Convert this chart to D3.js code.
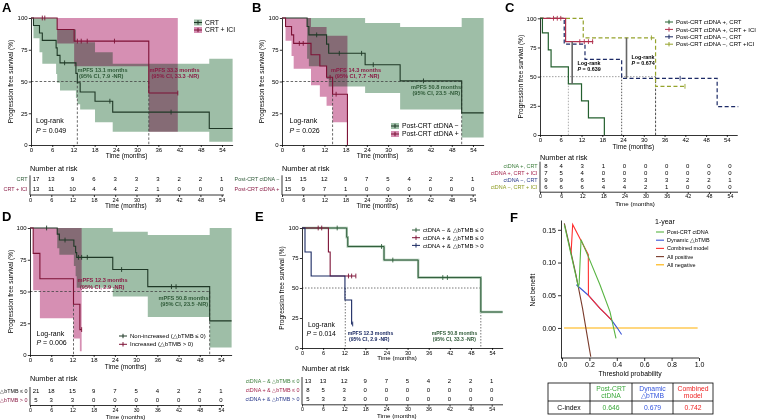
<!DOCTYPE html>
<html><head><meta charset="utf-8">
<script src="https://cdn.jsdelivr.net/npm/d3@7"></script>
<style>body{margin:0;background:#fff}svg{display:block}</style>
</head><body><script>
const FONT='"Liberation Sans", Arial, Helvetica, sans-serif';
const riskTimes=[0,6,12,18,24,30,36,42,48,54];
const survTicks=[0,25,50,75,100];

// ---------- Panel A ----------
const aCrtSteps=[[0,100],[0.7,94.1],[2.4,88.2],[3.2,82.4],[7.1,76.5],[7.4,70.6],[8.2,64.7],[12.7,56.4],[13.1,49.0],[13.9,41.7],[18.1,34.5],[23.1,25.9],[50.4,13.0],[57,13.0]];
const aCrtCensor=[9.5,22.3,39.6];
const aCrtCI=[[0,100,100],[0.7,84,100],[2.4,73,100],[3.2,64,100],[7.1,56,100],[7.4,49,91],[8.2,43,91],[12.7,37,81],[13.1,32,81],[13.9,28,81],[18.1,18,73],[23.1,10.5,64],[50.4,2.5,68],[57,2.5,68]];
const aIciSteps=[[0,100],[7.4,90.9],[12.2,81.8],[33.3,40.9],[41.5,40.9]];
const aIciCensor=[3.2,3.9,13.1,14.2,15.9,23.6,41.5];
const aIciCI=[[0,100,100],[7.4,80,100],[12.2,62,100],[33.3,10.5,100],[41.5,10.5,100]];
const aRiskCrt=[17,13,9,6,3,3,3,2,2,1];
const aRiskIci=[13,11,10,4,4,2,1,0,0,0];

// ---------- Panel B ----------
const bNegSteps=[[0,100],[7.1,93.3],[7.6,86.7],[12.6,79.4],[13.2,72.2],[23.5,63.2],[33.4,50.5],[50.8,25.3],[57,25.3]];
const bNegCensor=[9.8,16.2,22.5,25.8,40.0];
const bNegCI=[[0,100,100],[7.1,68,100],[7.6,62,100],[12.6,52,100],[13.2,46,100],[23.5,41,96],[33.4,28,93],[50.8,6,100],[57,6,100]];
const bPosSteps=[[0,100],[1.0,93.3],[2.7,86.7],[3.3,80.0],[8.2,71.1],[10.7,62.2],[12.6,53.3],[14.3,40.0],[18.5,0]];
const bPosCensor=[4.9,6.0,13.6,15.3];
const bPosCI=[[0,100,100],[1.0,82,100],[2.7,70,100],[3.3,60,100],[8.2,47,93],[10.7,38,93],[12.6,31,86],[14.3,18,86],[18.5,18,86]];
const bRiskNeg=[15,15,12,9,7,5,4,2,2,1];
const bRiskPos=[15,9,7,1,0,0,0,0,0,0];

// ---------- Panel C ----------
const cPosCrtSteps=[[0,100],[0.7,87.5],[2.4,72.9],[3.2,58.3],[8.2,43.8],[12.0,29.2],[14.0,14.6],[18.6,0]];
const cPosIciSteps=[[0,100],[7.4,80],[15.4,80]];
const cPosIciCensor=[3.9,5.0,6.0,11.5,12.8,14.0,15.2];
const cNegCrtSteps=[[0,100],[7.0,77.8],[13.0,64.8],[23.6,48.6],[51.2,24.3],[57.3,24.3]];
const cNegCrtCensor=[40.5];
const cNegIciSteps=[[0,100],[12.5,83.3],[33.4,41.7],[41.9,41.7]];
const cNegIciCensor=[32.2,41.9];
const cRiskPosCrt=[8,4,3,1,0,0,0,0,0,0];
const cRiskPosIci=[7,5,4,0,0,0,0,0,0,0];
const cRiskNegCrt=[9,9,6,5,3,3,3,2,2,1];
const cRiskNegIci=[6,6,6,4,4,2,1,0,0,0];

// ---------- Panel D ----------
const dNonSteps=[[0,100],[7.7,95.2],[8.3,90.5],[12.4,85.6],[12.9,80.6],[13.2,76.9],[23.4,67.3],[33.3,53.8],[50.8,26.9],[57,26.9]];
const dNonCensor=[4.7,9.9,13.7,14.6,16.2,25.9,40.0,41.3];
const dNonCI=[[0,100,100],[7.7,84,100],[8.3,79,100],[12.4,70,100],[12.9,62,100],[13.2,53,100],[23.4,46,97],[33.3,30,94.5],[50.8,6,100],[57,6,100]];
const dIncSteps=[[0,100],[0.9,80],[2.8,60],[12.3,40],[14.1,20],[14.6,20]];
const dIncCensor=[14.6];
const dIncCI=[[0,100,100],[0.9,51,100],[2.8,29,100],[12.3,13,100],[14.1,3,100],[14.6,3,100]];
const dRiskNon=[21,18,15,9,7,5,4,2,2,1];
const dRiskInc=[5,3,3,0,0,0,0,0,0,0];

// ---------- Panel E ----------
const eNegSteps=[[0,100],[12.7,92.3],[13.0,84.6],[23.3,73.3],[33.0,58.7],[50.8,30.0],[57,30.0]];
const eNegCensor=[10.0,22.6,25.8,40.0,41.3];
const ePosLowSteps=[[0,100],[7.5,80],[8.0,60],[15.3,60]];
const ePosLowCensor=[4.6,5.6,13.2,14.1,15.3];
const ePosHighSteps=[[0,100],[0.85,80],[2.6,60],[12.2,40],[14.1,20],[14.4,20]];
const ePosHighCensor=[14.4];
const eRiskNeg=[13,13,12,9,7,5,4,2,2,1];
const eRiskPosLow=[8,5,3,0,0,0,0,0,0,0];
const eRiskPosHigh=[5,3,3,0,0,0,0,0,0,0];

// ---------- Panel F ----------
const fXTicks=[0,0.2,0.4,0.6,0.8,1.0];
const fYTicks=[0,0.05,0.10,0.15];
const fCtdna=[[0.017,0.158],[0.119,0.063],[0.125,0.067],[0.139,0.135],[0.192,0.109],[0.277,0.066],[0.35,0.025],[0.394,-0.016]];
const fDynamic=[[0.105,0.066],[0.192,0.050],[0.235,0.040],[0.277,0.030],[0.32,0.021],[0.362,0.012],[0.40,0.001],[0.435,-0.010]];
const fCombined=[[0.066,0.114],[0.078,0.158],[0.192,0.112],[0.193,0.050],[0.235,0.040],[0.277,0.030],[0.32,0.021],[0.362,0.012]];
const fAllPos=[[0.017,0.160],[0.05,0.130],[0.10,0.083],[0.15,0.030],[0.20,-0.032],[0.21,-0.044]];
const fAllNeg=[[0.015,0],[0.99,0]];
const fCindex=['0.646','0.679','0.742'];

// ---------- colours ----------
const GBAND='#9ebea7', PBAND='#d68fb3';
const GLINE='#1f3826', MLINE='#7d1236';
const GTXT='#2f5a38', MTXT='#8a1c45';
const C_G='#24602f', C_R='#b0304d', C_N='#1c2a66', C_O='#95a32c';
const NAVY='#1b2a63';

const svg=d3.select('body').append('svg').attr('width',759).attr('height',420).attr('font-family',FONT);

function addText(g,x,y,s,o){o=o||{};const t=g.append('text').attr('x',x).attr('y',y).attr('dy','0.35em')
  .attr('font-size',o.size||6).attr('fill',o.color||'#000').attr('text-anchor',o.anchor||'start');
  if(o.bold)t.attr('font-weight','bold');
  if(o.rot!=null)t.attr('transform',`rotate(${o.rot},${x},${y})`);
  t.text(s);return t;}
function addP(g,x,y,val,o){o=o||{};const t=g.append('text').attr('x',x).attr('y',y).attr('dy','0.35em')
  .attr('font-size',o.size||7).attr('fill','#000');if(o.bold)t.attr('font-weight','bold');
  t.append('tspan').attr('font-style','italic').text('P');t.append('tspan').text(' = '+val);return t;}
function styleAxis(a,size){a.attr('font-size',size).attr('font-family',FONT);
  a.select('.domain').attr('stroke','#000').attr('stroke-width',0.8);
  a.selectAll('.tick line').attr('stroke','#000').attr('stroke-width',0.8);
  a.selectAll('.tick text').attr('fill','#000');}
function stepVal(steps,t){let v=steps[0][1];for(const s of steps){if(s[0]<=t)v=s[1];}return v;}

function drawKM(p){
  const g=svg.append('g');
  const x=d3.scaleLinear().domain([0,p.xmax]).range([p.x0,p.x0+p.xmax*p.pxm]);
  const y=d3.scaleLinear().domain([0,100]).range([p.yb,p.yt]);
  const area=d3.area().curve(d3.curveStepAfter).x(d=>x(d[0])).y0(d=>y(d[1])).y1(d=>y(d[2]));
  (p.bands||[]).forEach(b=>g.append('path').attr('d',area(b.data)).attr('fill',b.color).style('mix-blend-mode','multiply'));
  (p.dashes||[]).forEach(d=>g.append('line').attr('x1',x(d[0])).attr('y1',y(d[1])).attr('x2',x(d[2])).attr('y2',y(d[3]))
     .attr('stroke',d[4]||'#444').attr('stroke-width',0.8).attr('stroke-dasharray',d[5]||'2.5,1.8'));
  const line=d3.line().curve(d3.curveStepAfter).x(d=>x(d[0])).y(d=>y(d[1]));
  p.curves.forEach(c=>{
    if(c.halo)g.append('path').attr('d',line(c.steps)).attr('fill','none').attr('stroke',c.halo).attr('stroke-width',2.4);
    g.append('path').attr('d',line(c.steps)).attr('fill','none').attr('stroke',c.color).attr('stroke-width',c.w||1.1)
      .attr('stroke-dasharray',c.dash||null);
    (c.cens||[]).forEach(t=>{const yy=y(stepVal(c.steps,t));
      g.append('line').attr('x1',x(t)).attr('x2',x(t)).attr('y1',yy-2.4).attr('y2',yy+2.4).attr('stroke',c.color).attr('stroke-width',0.9);});
  });
  const ax=g.append('g').attr('transform',`translate(0,${p.yb})`)
    .call(d3.axisBottom(x).tickValues(riskTimes).tickSize(2).tickSizeOuter(0).tickPadding(p.xpad!=null?p.xpad:1.2));
  styleAxis(ax,p.xfont||6);
  const ay=g.append('g').attr('transform',`translate(${p.x0},0)`)
    .call(d3.axisLeft(y).tickValues(survTicks).tickSize(2.2).tickSizeOuter(0).tickPadding(1.2));
  styleAxis(ay,6);
  addText(g,p.ytitleX,(p.yb+p.yt)/2,'Progression free survival (%)',{size:6.5,anchor:'middle',rot:-90});
  addText(g,x(27),p.xtitleY,'Time (months)',{size:p.ttlSize||6.5,anchor:'middle'});
  return {g,x,y};
}

function drawRisk(r){
  const g=svg.append('g');
  const x=d3.scaleLinear().domain([0,54]).range([r.x0,r.x54]);
  addText(g,r.x0,r.yTitle,'Number at risk',{size:7.3});
  r.rows.forEach(row=>{
    addText(g,r.x0-2.5,row.y,row.label,{size:5.4,anchor:'end',color:row.color});
    row.values.forEach((v,i)=>addText(g,x(riskTimes[i])+(i===0?6:0),row.y,String(v),{size:6,anchor:'middle'}));
  });
  g.append('line').attr('x1',r.x0).attr('x2',r.x0).attr('y1',r.rows[0].y-4).attr('y2',r.yAxis).attr('stroke','#000').attr('stroke-width',0.8);
  const ax=g.append('g').attr('transform',`translate(0,${r.yAxis})`)
    .call(d3.axisBottom(x).tickValues(riskTimes).tickSize(r.tick||2).tickSizeOuter(0).tickPadding(r.pad!=null?r.pad:1));
  styleAxis(ax,r.font||5.6);
  ax.select('.domain').attr('d',`M${r.x0},0H${r.xEnd}`);
  addText(g,x(27),r.yTime,'Time (months)',{size:r.ttl||6.5,anchor:'middle'});
}

function legendKM(g,x,y,band,col,label,size){
  if(band)g.append('rect').attr('x',x).attr('y',y-3).attr('width',8).attr('height',6).attr('fill',band);
  g.append('line').attr('x1',x).attr('x2',x+8).attr('y1',y).attr('y2',y).attr('stroke',col).attr('stroke-width',1);
  g.append('line').attr('x1',x+4).attr('x2',x+4).attr('y1',y-2.2).attr('y2',y+2.2).attr('stroke',col).attr('stroke-width',1);
  addText(g,x+11,y,label,{size:size||6.8});
}

// panel letters
[['A',2,11.5],['B',252,11.5],['C',505,11.5],['D',2,221],['E',255,221],['F',510,222]].forEach(l=>
  svg.append('text').attr('x',l[1]).attr('y',l[2]).attr('font-size',13).attr('font-weight','bold').text(l[0]));

// ===== A =====
{
 const P=drawKM({x0:31,pxm:3.537,xmax:57,yb:145,yt:18,ytitleX:11,xtitleY:156,
   bands:[{data:aCrtCI,color:GBAND},{data:aIciCI,color:PBAND}],
   dashes:[[0,50,33.3,50],[13.1,50,13.1,0],[33.3,50,33.3,0]],
   curves:[{steps:aCrtSteps,cens:aCrtCensor,color:GLINE},{steps:aIciSteps,cens:aIciCensor,color:MLINE}]});
 const g=P.g;
 addText(g,77.5,70,'mPFS 13.1 months',{size:5.6,bold:true,color:GTXT});
 addText(g,79,76.5,'(95% CI, 7.9 -NR)',{size:5.6,bold:true,color:GTXT});
 addText(g,149.5,70,'mPFS 33.3 months',{size:5.6,bold:true,color:MTXT});
 addText(g,151.5,76.5,'(95% CI, 33.3 -NR)',{size:5.6,bold:true,color:MTXT});
 addText(g,36,121,'Log-rank',{size:7});
 addP(g,36,130.5,'0.049',{size:7});
 legendKM(g,194,22.5,GBAND,GLINE,'CRT');
 legendKM(g,194,30,PBAND,MLINE,'CRT + ICI');
 drawRisk({x0:30,x54:221.7,xEnd:224,yTitle:168,yAxis:195,yTime:206,
   rows:[{label:'CRT',color:GTXT,values:aRiskCrt,y:179.3},{label:'CRT + ICI',color:MTXT,values:aRiskIci,y:189.3}]});
}
// ===== B =====
{
 const P=drawKM({x0:282,pxm:3.537,xmax:57,yb:145,yt:18,ytitleX:262,xtitleY:156,
   bands:[{data:bNegCI,color:GBAND},{data:bPosCI,color:PBAND}],
   dashes:[[0,50,50.8,50],[14.3,50,14.3,0],[50.8,50,50.8,0]],
   curves:[{steps:bNegSteps,cens:bNegCensor,color:GLINE},{steps:bPosSteps,cens:bPosCensor,color:MLINE}]});
 const g=P.g;
 addText(g,331,70,'mPFS 14.3 months',{size:5.6,bold:true,color:MTXT});
 addText(g,335,76.5,'(95% CI, 7.7 -NR)',{size:5.6,bold:true,color:MTXT});
 addText(g,411,87.3,'mPFS 50.8 months',{size:5.6,bold:true,color:GTXT});
 addText(g,412.5,93.5,'(95% CI, 23.5 -NR)',{size:5.6,bold:true,color:GTXT});
 addText(g,289.5,121,'Log-rank',{size:7});
 addP(g,289.5,131,'0.026',{size:7});
 legendKM(g,391,126,GBAND,GLINE,'Post-CRT ctDNA −');
 legendKM(g,391,134,PBAND,MLINE,'Post-CRT ctDNA +');
 drawRisk({x0:282,x54:472.7,xEnd:476,yTitle:168,yAxis:195,yTime:206,
   rows:[{label:'Post-CRT ctDNA −',color:GTXT,values:bRiskNeg,y:179.3},{label:'Post-CRT ctDNA +',color:MTXT,values:bRiskPos,y:189.3}]});
}
// ===== C =====
{
 const P=drawKM({x0:540,pxm:3.46,xmax:57,yb:135,yt:18.3,ytitleX:521,xtitleY:147,
   dashes:[[0,50,33.4,50,'#888','1.5,1.5'],[8.2,50,8.2,0,'#999','1.5,1.5'],[23.6,50,23.6,0,'#333','1.5,1.5'],[33.4,50,33.4,0,'#222','2.5,1.5']],
   curves:[{steps:cNegCrtSteps,cens:cNegCrtCensor,color:C_N,dash:'4,2.5',w:1.2},
           {steps:cNegIciSteps,cens:cNegIciCensor,color:C_O,dash:'4,2.5',w:1.2},
           {steps:cPosIciSteps,cens:cPosIciCensor,color:C_R,w:1.2},
           {steps:cPosCrtSteps,cens:[],color:C_G,w:1.2}]});
 const g=P.g,x=P.x,y=P.y;
 g.append('line').attr('x1',x(9.3)).attr('x2',x(9.3)).attr('y1',y(80)).attr('y2',y(43.8)).attr('stroke','#666').attr('stroke-width',1.6);
 g.append('line').attr('x1',x(25.0)).attr('x2',x(25.0)).attr('y1',y(83.3)).attr('y2',y(48.6)).attr('stroke','#666').attr('stroke-width',1.6);
 addText(g,577.5,63.3,'Log-rank',{size:5.4,bold:true});
 addP(g,577.5,69.5,'0.639',{size:5.4,bold:true});
 addText(g,631.5,56.8,'Log-rank',{size:5.4,bold:true});
 addP(g,631.5,63,'0.674',{size:5.4,bold:true});
 const leg=[['Post-CRT ctDNA +, CRT',C_G],['Post-CRT ctDNA +, CRT + ICI',C_R],['Post-CRT ctDNA −,  CRT',C_N],['Post-CRT ctDNA −, CRT +ICI',C_O]];
 leg.forEach((l,i)=>legendKM(g,665,22+i*7.4,null,l[1],l[0],6));
 drawRisk({x0:540,x54:730,xEnd:738,yTitle:157,yAxis:192.2,yTime:203.6,tick:1.8,pad:0.6,font:5.3,ttl:6.2,
   rows:[{label:'ctDNA +, CRT',color:'#3b7d3a',values:cRiskPosCrt,y:165.7},
         {label:'ctDNA +, CRT + ICI',color:'#a3224b',values:cRiskPosIci,y:172.9},
         {label:'ctDNA −, CRT',color:'#26378a',values:cRiskNegCrt,y:180.1},
         {label:'ctDNA −, CRT + ICI',color:'#8c9a1f',values:cRiskNegIci,y:187.3}]});
}
// ===== D =====
{
 const P=drawKM({x0:30,pxm:3.537,xmax:57,yb:355,yt:228,ytitleX:11,xtitleY:367,
   bands:[{data:dNonCI,color:GBAND},{data:dIncCI,color:PBAND}],
   dashes:[[0,50,50.8,50],[12.3,50,12.3,0],[50.8,50,50.8,0]],
   curves:[{steps:dNonSteps,cens:dNonCensor,color:GLINE},{steps:dIncSteps,cens:dIncCensor,color:MLINE}]});
 const g=P.g;
 addText(g,77.5,280,'mPFS 12.3 months',{size:5.6,bold:true,color:MTXT});
 addText(g,80,286.7,'(95% CI, 2.9 -NR)',{size:5.6,bold:true,color:MTXT});
 addText(g,158.5,297.7,'mPFS 50.8 months',{size:5.6,bold:true,color:GTXT});
 addText(g,160.5,304,'(95% CI, 23.5 -NR)',{size:5.6,bold:true,color:GTXT});
 addText(g,36.5,333.3,'Log-rank',{size:7});
 addP(g,36.5,342.7,'0.006',{size:7});
 legendKM(g,119,336,null,GLINE,'Non-increased (△bTMB ≤ 0)',6);
 legendKM(g,119,344.3,null,MLINE,'Increased (△bTMB > 0)',6);
 drawRisk({x0:30,x54:221,xEnd:224,yTitle:378.3,yAxis:405.5,yTime:416.8,tick:1.8,pad:0.6,font:5.3,ttl:6.2,
   rows:[{label:'△bTMB ≤ 0',color:'#111',values:dRiskNon,y:391},{label:'△bTMB > 0',color:MTXT,values:dRiskInc,y:400}]});
}
// ===== E =====
{
 const P=drawKM({x0:302,pxm:3.52,xmax:57,yb:348,yt:228,ytitleX:281.5,xtitleY:358.3,xpad:0.6,xfont:5.6,ttlSize:6.2,
   dashes:[[0,50,50.8,50,'#555','1.5,1.5'],[12.3,50,12.3,0,'#555','1.5,1.5'],[50.8,30,50.8,0,'#555','1.5,1.5']],
   curves:[{steps:eNegSteps,cens:eNegCensor,color:'#2f5c3a',halo:'#a9c6b0',w:1},
           {steps:ePosLowSteps,cens:ePosLowCensor,color:MLINE,w:1.1},
           {steps:ePosHighSteps,cens:ePosHighCensor,color:NAVY,w:1.1}]});
 const g=P.g;
 addText(g,308,324.3,'Log-rank',{size:6.8});
 addP(g,306.5,333.3,'0.014',{size:6.8});
 addText(g,347.7,333.5,'mPFS 12.3 months',{size:5.1,bold:true,color:NAVY});
 addText(g,349,339.5,'(95% CI, 2.9 -NR)',{size:5.1,bold:true,color:NAVY});
 addText(g,431.7,333.5,'mPFS 50.8 months',{size:5.1,bold:true,color:GTXT});
 addText(g,432.7,339.5,'(95% CI, 33.3 -NR)',{size:5.1,bold:true,color:GTXT});
 legendKM(g,412,230,null,'#2f5c3a','ctDNA − & △bTMB ≤ 0',6);
 legendKM(g,412,237.7,null,MLINE,'ctDNA + & △bTMB ≤ 0',6);
 legendKM(g,412,245.4,null,NAVY,'ctDNA + & △bTMB > 0',6);
 drawRisk({x0:302,x54:491.7,xEnd:503,yTitle:368.3,yAxis:404.8,yTime:415.8,tick:1.8,pad:0.6,font:5.3,ttl:6.2,
   rows:[{label:'ctDNA − & △bTMB ≤ 0',color:'#3b7d3a',values:eRiskNeg,y:381},
         {label:'ctDNA + & △bTMB ≤ 0',color:'#a3224b',values:eRiskPosLow,y:390},
         {label:'ctDNA + & △bTMB > 0',color:'#26378a',values:eRiskPosHigh,y:399}]});
}
// ===== F =====
{
 const g=svg.append('g');
 const x=d3.scaleLinear().domain([0,1]).range([562,699]);
 const y=d3.scaleLinear().domain([-0.0459,0.165]).range([358,220]);
 const ln=d3.line().x(d=>x(d[0])).y(d=>y(d[1]));
 const curves=[[fAllNeg,'#ffb000'],[fAllPos,'#7a3b2b'],[fDynamic,'#3b55d6'],[fCombined,'#ff2e2e'],[fCtdna,'#58b442']];
 curves.forEach(c=>g.append('path').attr('d',ln(c[0])).attr('fill','none').attr('stroke',c[1]).attr('stroke-width',1.1));
 const ay=g.append('g').attr('transform','translate(561,0)').call(d3.axisLeft(y).tickValues(fYTicks).tickFormat(d3.format('.2f')).tickSize(3).tickSizeOuter(0).tickPadding(2));
 styleAxis(ay,7);
 const ax=g.append('g').attr('transform','translate(0,358)').call(d3.axisBottom(x).tickValues(fXTicks).tickFormat(d3.format('.1f')).tickSize(3).tickSizeOuter(0).tickPadding(1.5));
 styleAxis(ax,7);
 ax.select('.domain').attr('d','M561,0H699');
 addText(g,630,373.5,'Threshold probability',{size:6.8,anchor:'middle'});
 addText(g,533,290,'Net benefit',{size:6.8,anchor:'middle',rot:-90});
 addText(g,655,222,'1-year',{size:7});
 const legF=[['Post-CRT ctDNA','#58b442'],['Dynamic  △bTMB','#3b55d6'],['Combined model','#ff2e2e'],['All positive','#7a3b2b'],['All negative','#ffb000']];
 legF.forEach((l,i)=>{const yy=232+i*8.2;
   g.append('line').attr('x1',656).attr('x2',664).attr('y1',yy).attr('y2',yy).attr('stroke',l[1]).attr('stroke-width',1.1);
   addText(g,667,yy,l[0],{size:5.5});});
 const cols=[548,590,632,673,713], rowsY=[383,401,414];
 const tcol=['#3aa83a','#3354dd','#ee2222'];
 g.append('rect').attr('x',cols[0]).attr('y',rowsY[0]).attr('width',cols[4]-cols[0]).attr('height',rowsY[2]-rowsY[0]).attr('fill','none').attr('stroke','#000').attr('stroke-width',0.8);
 cols.slice(1,4).forEach(c=>g.append('line').attr('x1',c).attr('x2',c).attr('y1',rowsY[0]).attr('y2',rowsY[2]).attr('stroke','#000').attr('stroke-width',0.8));
 g.append('line').attr('x1',cols[0]).attr('x2',cols[4]).attr('y1',rowsY[1]).attr('y2',rowsY[1]).attr('stroke','#000').attr('stroke-width',0.8);
 const hdr=[['Post-CRT','ctDNA'],['Dynamic','△bTMB'],['Combined','model']];
 hdr.forEach((h,i)=>{const cx=(cols[i+1]+cols[i+2])/2;
   addText(g,cx,388.5,h[0],{size:6.8,anchor:'middle',color:tcol[i]});
   addText(g,cx,396,h[1],{size:6.8,anchor:'middle',color:tcol[i]});
   addText(g,cx,408,fCindex[i],{size:6.8,anchor:'middle',color:tcol[i]});});
 addText(g,(cols[0]+cols[1])/2,408,'C-index',{size:6.8,anchor:'middle'});
}
</script></body></html>
